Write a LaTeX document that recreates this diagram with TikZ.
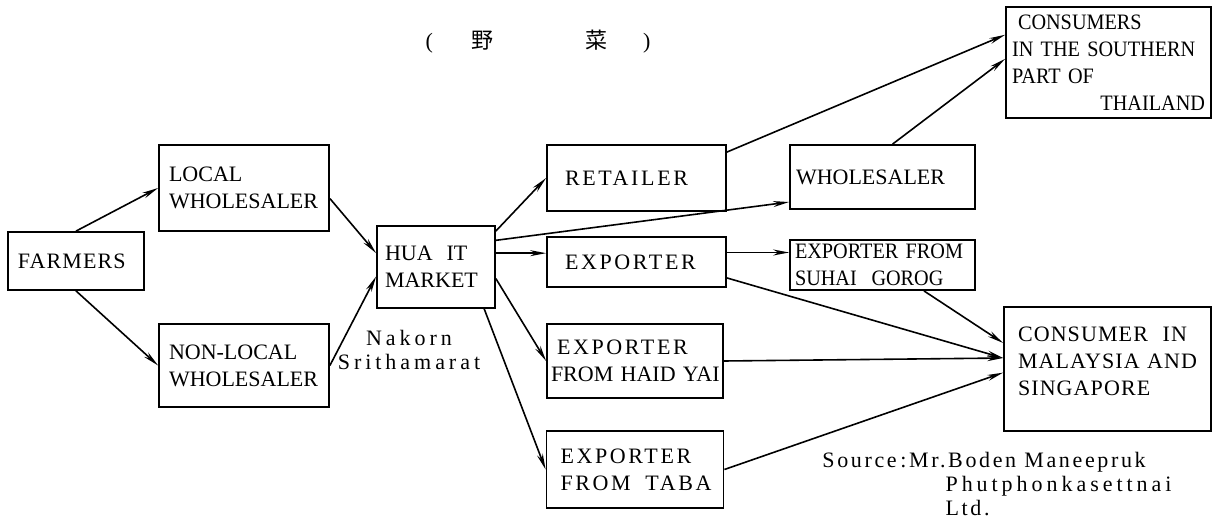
\documentclass[tikz,border=0pt]{standalone}
\usepackage{fontspec}
\setmainfont{Liberation Serif}
\newfontfamily\spacedfont[LetterSpace=12]{Liberation Serif}
\newfontfamily\lightspacedfont[LetterSpace=5]{Liberation Serif}
\newfontfamily\widefont[LetterSpace=18]{Liberation Serif}
\newfontfamily\narrowfont[FakeStretch=0.92]{Liberation Serif}
\newfontfamily\cjkfont{Noto Sans CJK JP}
\usepackage{tikz}
\usetikzlibrary{arrows.meta, calc}

\tikzset{
    chainbox/.style={draw, line width=0.9pt, align=left, inner xsep=5pt, inner ysep=0pt},
    flowarrow/.style={line width=0.8pt, -{Stealth[length=8pt, width=3pt]}},
    spaced/.style={font=\fontsize{11}{13.5}\spacedfont},
    lightspaced/.style={font=\fontsize{11}{13.5}\lightspacedfont},
    narrow/.style={font=\fontsize{11}{13.5}\narrowfont}
}

\begin{document}
\begin{tikzpicture}[x=0.5pt, y=-0.5pt, font=\fontsize{11}{13.5}\selectfont]
    \useasboundingbox (0,0) rectangle (1213,523);

    % Title
    \node (title) at (538,42) {(\hspace{19pt}{\cjkfont 野}\hspace{46pt}{\cjkfont 菜}\hspace{18pt})};

    % Producers and wholesalers
    \node[chainbox, lightspaced, text width=58pt, minimum height=29pt] (farmers) at (76,261) {FARMERS};
    \node[chainbox, text width=75pt, minimum height=43pt] (local) at (244,188) {LOCAL\\WHOLESALER};
    \node[chainbox, text width=75pt, minimum height=41.5pt] (nonlocal) at (244,365.5) {NON-LOCAL\\WHOLESALER};
    \node[chainbox, inner xsep=4pt, text width=51pt, minimum height=41pt] (hua) at (436,267) {HUA\hspace{7pt}IT\\MARKET};
    \node[font=\fontsize{11}{12}\widefont, align=center] (nakorn) at (409,350) {Nakorn\\Srithamarat};

    % Traders after the market
    \node[chainbox, spaced, inner xsep=9pt, text width=71.5pt, minimum height=33pt] (retailer) at (636.5,178) {RETAILER};
    \node[chainbox, spaced, inner xsep=9pt, text width=71.5pt, minimum height=25pt] (exporter) at (636.5,262) {EXPORTER};
    \node[chainbox, inner xsep=2pt, text width=84pt, minimum height=37pt] (haid) at (635,361) {\hspace*{3pt}{\spacedfont EXPORTER}\\FROM~HAID~YAI};
    \node[chainbox, spaced, inner xsep=7pt, text width=74.5pt, minimum height=38.5pt] (taba) at (635,469.5) {EXPORTER\\FROM~~TABA};
    \node[chainbox, inner xsep=3pt, text width=86.5pt, minimum height=32pt] (whol) at (882.5,177) {WHOLESALER};
    \node[chainbox, narrow, inner xsep=2.5pt, text width=87.5pt, minimum height=25pt] (suhai) at (882.5,265) {EXPORTER~FROM\\SUHAI~~GOROG};

    % Consumers
    \node[chainbox, narrow, inner xsep=3pt, text width=96.5pt, minimum height=55.5pt] (cons) at (1108.5,62.5)
        {\hspace*{3pt}CONSUMERS\\IN~THE~SOUTHERN\\PART~OF\\\hspace*{\fill}THAILAND};
    \node[chainbox, lightspaced, inner xsep=7pt, text width=89.5pt, minimum height=62pt] (mal) at (1107.5,369)
        {CONSUMER~~IN\\MALAYSIA~AND\\SINGAPORE\\[-6pt]\mbox{}};

    % Source note
    \node[font=\fontsize{11}{12}\spacedfont, align=left, anchor=north west, inner sep=0pt] (source) at (822,452)
        {Source\,:Mr.Boden Maneepruk\\\phantom{Source\,:Mr.}{\widefont Phutphonkasettnai}\\\phantom{Source\,:Mr.}Ltd.};

    % Flows between the boxes
    \foreach \from/\to in {farmers.north/local.west, farmers.south/nonlocal.west,
                           local.-7/hua.167, nonlocal.east/hua.-171,
                           hua.31/retailer.west, hua.24/whol.-165,
                           hua.-11/haid.west, hua.-41/taba.west,
                           retailer.16/cons.165, whol.73/cons.178,
                           exporter.-10/mal.174, suhai.-32/mal.166,
                           haid.east/mal.174, taba.east/mal.-178} {
        \draw[flowarrow] (\from) -- (\to);
    }
    \draw[flowarrow] (hua.13) -- (hua.13 -| exporter.west);
    \draw[flowarrow] (exporter.6) -- (exporter.6 -| suhai.west);
\end{tikzpicture}
\end{document}
